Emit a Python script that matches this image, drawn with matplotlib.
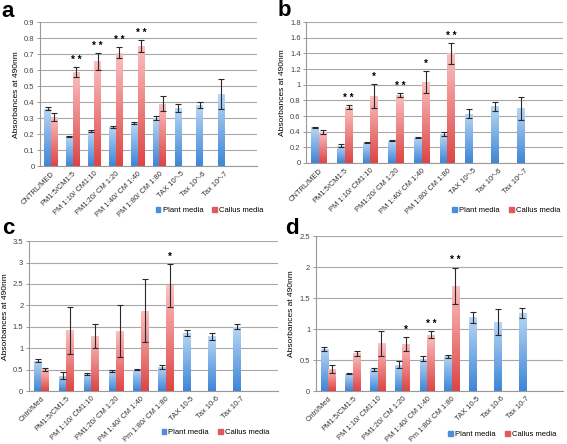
import numpy as np
import matplotlib; matplotlib.use("Agg")
import matplotlib.pyplot as plt
from matplotlib.colors import LinearSegmentedColormap
from matplotlib.patches import Patch

plt.rcParams['font.family'] = ['Liberation Sans', 'DejaVu Sans']

nan = np.nan
lab_ab = ["CNTRL/MED", "PM1:5/CM1:5", "PM 1:10/ CM1:10", "PM1:20/ CM 1:20", "PM 1:40/ CM 1:40",
          "PM 1:80/ CM 1:80", "TAX 10^-5", "Tax 10^-6", "Tax 10^-7"]
lab_cd = ["Cntrl/Med", "PM1:5/CM1:5", "PM 1:10/ CM1:10", "PM1:20/ CM 1:20", "PM 1:40/ CM 1:40",
          "Pm 1:80/ CM 1:80", "TAX 10-5", "Tax 10-6", "Tax 10-7"]

# panel a
a_plant = [0.36, 0.185, 0.22, 0.245, 0.267, 0.30, 0.362, 0.38, 0.45]
a_plant_err = [0.012, 0.003, 0.005, 0.006, 0.006, 0.012, 0.025, 0.018, 0.092]
a_callus = [0.307, 0.59, 0.655, 0.71, 0.752, 0.39, nan, nan, nan]
a_callus_err = [0.022, 0.03, 0.053, 0.036, 0.036, 0.047, nan, nan, nan]
a_stars = ["", "**", "**", "**", "**", "", "", "", ""]

# panel b
b_plant = [0.455, 0.22, 0.26, 0.285, 0.325, 0.37, 0.63, 0.725, 0.70]
b_plant_err = [0.005, 0.02, 0.01, 0.006, 0.006, 0.025, 0.06, 0.055, 0.145]
b_callus = [0.395, 0.72, 0.86, 0.87, 1.04, 1.40, nan, nan, nan]
b_callus_err = [0.025, 0.025, 0.155, 0.027, 0.14, 0.135, nan, nan, nan]
b_stars = ["", "**", "*", "**", "*", "**", "", "", ""]

# panel c
c_plant = [0.71, 0.36, 0.40, 0.47, 0.50, 0.56, 1.36, 1.28, 1.50]
c_plant_err = [0.03, 0.08, 0.02, 0.03, 0.01, 0.04, 0.07, 0.08, 0.06]
c_callus = [0.51, 1.42, 1.28, 1.40, 1.875, 2.47, nan, nan, nan]
c_callus_err = [0.04, 0.55, 0.28, 0.61, 0.74, 0.50, nan, nan, nan]
c_stars = ["", "", "", "", "", "*", "", "", ""]

# panel d
d_plant = [0.68, 0.28, 0.35, 0.43, 0.52, 0.565, 1.19, 1.12, 1.265]
d_plant_err = [0.03, 0.01, 0.03, 0.05, 0.04, 0.025, 0.09, 0.21, 0.08]
d_callus = [0.36, 0.61, 0.77, 0.76, 0.91, 1.70, nan, nan, nan]
d_callus_err = [0.065, 0.04, 0.20, 0.11, 0.06, 0.29, nan, nan, nan]
d_stars = ["", "", "", "*", "**", "**", "", "", ""]

BLUE = ("#3f86d6", "#b8d6f5")   # bottom, top
RED = ("#dd4545", "#fbc0c0")
W = 0.3


def gbars(ax, x, h, err, cols):
    cmap = LinearSegmentedColormap.from_list("g", list(cols))
    grad = np.linspace(0, 1, 64).reshape(-1, 1)
    bars = ax.bar(x, h, W, align="edge", color=cols[0], zorder=2)
    for b in bars:
        if np.isnan(b.get_height()):
            continue
        im = ax.imshow(grad, extent=(b.get_x(), b.get_x() + b.get_width(), 0, b.get_height()),
                       origin="lower", cmap=cmap, aspect="auto", zorder=2.1)
        im.set_clip_path(b)
    ax.errorbar(np.asarray(x) + W / 2, h, yerr=err, fmt="none", ecolor="#2a2a2a",
                elinewidth=0.8, capsize=2, capthick=0.8, zorder=3)


def panel(rect, letter, lpos, plant, perr, callus, cerr, stars, labels, ymax, step, legpos):
    ax = fig.add_axes(rect)
    x = np.arange(len(labels))
    gbars(ax, x - W, plant, perr, BLUE)
    gbars(ax, x, callus, cerr, RED)
    for i, s in enumerate(stars):
        if s:
            ax.text(x[i] + W / 2, callus[i] + cerr[i] + ymax * 0.015, " ".join(s), ha="center",
                    va="bottom", fontsize=7, fontweight="bold")
    ax.set_xlim(-0.5, 9.5)
    ax.set_ylim(0, ymax)
    ticks = np.arange(0, ymax + step / 2, step)
    ax.set_yticks(ticks)
    ax.set_yticklabels([f"{t:g}" for t in ticks], fontsize=5.5, color="#444444")
    ax.set_xticks(x)
    ax.set_xticklabels(labels, rotation=45, ha="right", rotation_mode="anchor", fontsize=5.4,
                       color="#333333")
    ax.tick_params(axis="x", length=0, pad=3)
    ax.tick_params(axis="y", length=2, width=0.6, color="#888888", pad=2)
    ax.yaxis.grid(True, color="#a8a8a8", lw=0.8, zorder=0)
    ax.set_axisbelow(True)
    for s in ("top", "right"):
        ax.spines[s].set_visible(False)
    for s in ("left", "bottom"):
        ax.spines[s].set_color("#999999")
        ax.spines[s].set_linewidth(0.8)
    ax.set_ylabel("Absorbances at 490nm", fontsize=6, labelpad=3)
    fig.text(lpos[0], lpos[1], letter, fontsize=16, fontweight="bold", va="top", ha="left")
    fig.legend(handles=[Patch(color="#4a8fdb", label="Plant media"),
                        Patch(color="#e25a5a", label="Callus media")],
               loc="center", bbox_to_anchor=legpos, ncol=2, frameon=False, fontsize=5.5,
               handlelength=0.6, handleheight=0.6, handletextpad=0.3, columnspacing=1.2)
    return ax


fig = plt.figure(figsize=(5.67, 4.44), dpi=100)
panel([0.0705, 0.626, 0.383, 0.324], "a", (0.003, 0.998), a_plant, a_plant_err, a_callus, a_callus_err,
      a_stars, lab_ab, 0.9, 0.1, (0.37, 0.525))
panel([0.540, 0.633, 0.453, 0.317], "b", (0.49, 0.999), b_plant, b_plant_err, b_callus, b_callus_err,
      b_stars, lab_ab, 1.8, 0.2, (0.893, 0.525))
panel([0.051, 0.119, 0.439, 0.338], "c", (0.003, 0.508), c_plant, c_plant_err, c_callus, c_callus_err,
      c_stars, lab_cd, 3.5, 0.5, (0.38, 0.025))
panel([0.557, 0.119, 0.436, 0.349], "d", (0.502, 0.51), d_plant, d_plant_err, d_callus, d_callus_err,
      d_stars, lab_cd, 2.5, 0.5, (0.886, 0.022))
fig.savefig("out.png", dpi=100)
